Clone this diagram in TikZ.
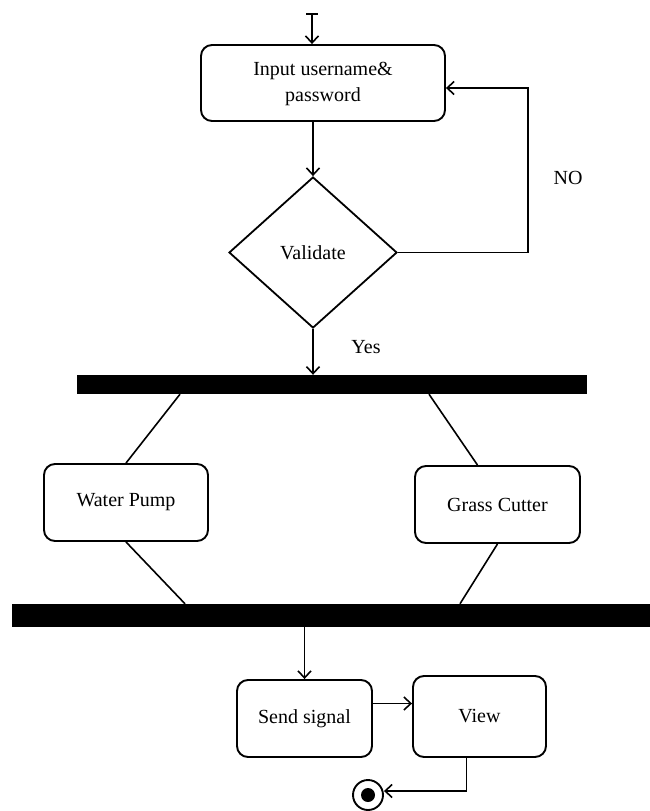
\documentclass[tikz,border=0pt]{standalone}
\usepackage{fontspec}
\setmainfont{Liberation Serif}
\usetikzlibrary{arrows.meta,shapes.geometric,calc}
\begin{document}
\begin{tikzpicture}[x=1pt,y=-1pt,
        act/.style={draw, line width=1.9pt, rounded corners=11pt, inner sep=0pt},
        syncbar/.style={fill=black, inner sep=0pt},
        link/.style={line width=1.6pt},
        arr/.style={link, -{Straight Barb[length=7pt,width=13pt]}},
        every node/.style={font=\fontsize{20}{26}\selectfont}]
        \useasboundingbox (0,0) rectangle (650,811);

        \coordinate (start) at (312,13);
        \node[act, minimum width=244pt, minimum height=76pt] (input) at (323,83) {
            \begin{tabular}{c}
                Input username\& \\
                password
            \end{tabular}
            };
        \node[draw, diamond, line width=1.8pt, minimum width=168pt, minimum height=151pt, inner sep=0pt] (validate) at (313,252.5) {Validate};
        \node[syncbar, minimum width=510pt, minimum height=19pt] (fork) at (332,384.5) {};
        \node[act, minimum width=164pt, minimum height=77pt] (pump) at (126,502.5) {Water Pump};
        \node[act, minimum width=165pt, minimum height=77pt] (cutter) at (497.5,504.5) {Grass Cutter};
        \node[syncbar, minimum width=638pt, minimum height=23pt] (join) at (331,615.5) {};
        \node[act, minimum width=135pt, minimum height=77pt] (send) at (304.5,718.5) {Send signal};
        \node[act, minimum width=133pt, minimum height=81pt] (view) at (479.5,716.5) {View};
        \node[circle, draw, line width=1.9pt, minimum size=30pt, inner sep=0pt] (final) at (368,795) {};
        \fill (final) circle (7pt);

        \node (no) at (568,178) {NO};
        \node (yes) at (366,347) {Yes};

        \draw[link, {Bar[width=12pt]}-{Straight Barb[length=7pt,width=13pt]}] (start) -- (start |- input.north);
        \draw[arr] (input.south -| validate.north) -- (validate.north);
        \draw[arr] (validate.east) -- ++(130,0) |- ([yshift=-5pt]input.east);
        \draw[arr] (validate.south) -- (validate.south |- fork.north);
        \draw[link] ($(fork.south)+(-152,0)$) -- (pump.north);
        \draw[link] ($(fork.south)+(97,0)$) -- ($(cutter.north)+(-20,0)$);
        \draw[link] (pump.south) -- ($(join.north)+(-146,0)$);
        \draw[link] (cutter.south) -- ($(join.north)+(129,0)$);
        \draw[arr] (join.south -| send.north) -- (send.north);
        \draw[arr] ([yshift=15pt]send.east) -- ([yshift=15pt]send.east -| view.west);
        \draw[arr] ([xshift=-13pt]view.south) |- ([yshift=4pt]final.east);
    \end{tikzpicture}
\end{document}
